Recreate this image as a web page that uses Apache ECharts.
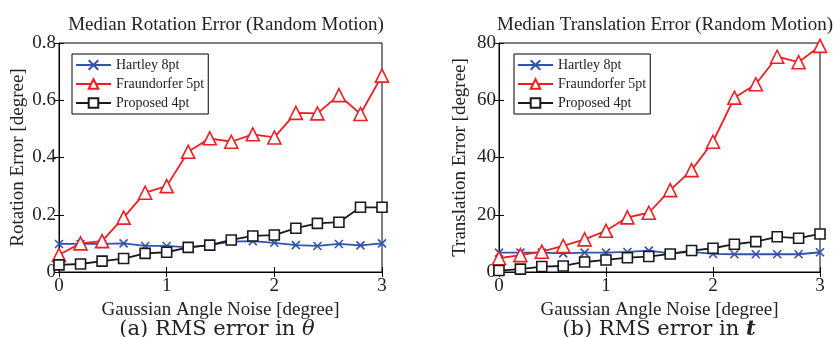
<!DOCTYPE html>
<html><head><meta charset="utf-8">
<script src="https://cdn.jsdelivr.net/npm/echarts@6/dist/echarts.min.js"></script>
<style>html,body{margin:0;padding:0;background:#fff}#c{width:834px;height:337px}</style>
</head><body><div id="c"></div>
<script>
const noise = [0,0.2,0.4,0.6,0.8,1.0,1.2,1.4,1.6,1.8,2.0,2.2,2.4,2.6,2.8,3.0];
const rotHartley = [0.098,0.098,0.098,0.100,0.091,0.091,0.086,0.094,0.106,0.108,0.102,0.094,0.091,0.098,0.093,0.100];
const rotFraund = [0.06,0.10,0.108,0.19,0.277,0.30,0.42,0.467,0.455,0.481,0.47,0.556,0.554,0.618,0.552,0.686];
const rotProposed = [0.025,0.028,0.038,0.047,0.065,0.069,0.086,0.094,0.112,0.126,0.129,0.153,0.170,0.174,0.226,0.226];
const trHartley = [6.75,6.75,6.75,6.5,6.75,6.75,7.0,7.45,6.5,7.0,6.3,6.2,6.2,6.2,6.2,6.9];
const trFraund = [4.8,5.9,7.1,9.1,11.4,14.4,19.1,20.7,28.6,35.6,45.5,60.9,65.6,75.2,73.3,79.0];
const trProposed = [0.5,1.0,1.9,2.1,3.5,4.2,5.0,5.4,6.3,7.5,8.3,9.7,10.6,12.3,11.8,13.3];
const xTicks = [0,1,2,3];
const rotTicks = [0,0.2,0.4,0.6,0.8];
const trTicks = [0,20,40,60,80];
const seriesNames = ['Hartley 8pt','Fraundorfer 5pt','Proposed 4pt'];

const FONT = 'Liberation Serif';
const CAPFONT = 'DejaVu Serif';
const BLUE = '#3152ad', RED = '#f01e23', BLACK = '#1a1a1a';
const xMark = 'path://M0,0L10,10M10,0L0,10';

function pairs(ys){ return noise.map((x,i)=>[x,ys[i]]); }

const chart = echarts.init(document.getElementById('c'));
const grids = [
  {left:59, right:452, top:43, bottom:65, show:true, borderColor:'#000', borderWidth:1},
  {left:499, right:14, top:43, bottom:65, show:true, borderColor:'#000', borderWidth:1}
];
function xAxes(gi){
  return [
    {gridIndex:gi, type:'value', min:0, max:3, interval:1, position:'bottom',
     name:'Gaussian Angle Noise [degree]', nameLocation:'middle', nameGap:21,
     nameTextStyle:{fontFamily:FONT, fontSize:19, color:'#222'},
     axisLine:{show:true, lineStyle:{color:'#000'}}, axisTick:{show:true, inside:true, length:5, lineStyle:{color:'#000'}},
     axisLabel:{fontFamily:FONT, fontSize:19, color:'#222', margin:5}, splitLine:{show:false}},
    {gridIndex:gi, type:'value', min:0, max:3, interval:1, position:'top',
     axisLine:{show:false}, axisTick:{show:true, inside:true, length:5, lineStyle:{color:'#000'}},
     axisLabel:{show:false}, splitLine:{show:false}}
  ];
}
function yAxes(gi, max, interval, name, gap){
  return [
    {gridIndex:gi, type:'value', min:0, max:max, interval:interval, position:'left',
     name:name, nameLocation:'middle', nameGap:gap,
     nameTextStyle:{fontFamily:FONT, fontSize:19, color:'#222'},
     axisLine:{show:true, lineStyle:{color:'#000'}}, axisTick:{show:true, inside:true, length:5, lineStyle:{color:'#000'}},
     axisLabel:{fontFamily:FONT, fontSize:19, color:'#222', margin:3}, splitLine:{show:false}},
    {gridIndex:gi, type:'value', min:0, max:max, interval:interval, position:'right',
     axisLine:{show:false}, axisTick:{show:true, inside:true, length:5, lineStyle:{color:'#000'}},
     axisLabel:{show:false}, splitLine:{show:false}}
  ];
}
function mk(name, data, xi, yi, color, symbol, size){
  return {name:name, type:'line', xAxisIndex:xi, yAxisIndex:yi, data:pairs(data),
    symbol:symbol, symbolSize:size, showSymbol:true, animation:false,
    lineStyle:{color:color, width:1.8},
    itemStyle:{color: symbol===xMark ? color : '#fff', borderColor:color, borderWidth:1.6}};
}
const legendBase = {orient:'vertical', itemWidth:35, itemHeight:12, itemGap:5,
  backgroundColor:'#fff', borderColor:'#000', borderWidth:1, padding:[4,4,4,3],
  textStyle:{fontFamily:FONT, fontSize:14, color:'#222'}, data:seriesNames};

chart.setOption({
  animation:false,
  title:[
    {text:'Median Rotation Error (Random Motion)', left:221, textAlign:'center', top:11,
     textStyle:{fontFamily:FONT, fontSize:19, fontWeight:'normal', color:'#222'}},
    {text:'Median Translation Error (Random Motion)', left:660, textAlign:'center', top:11,
     textStyle:{fontFamily:FONT, fontSize:19, fontWeight:'normal', color:'#222'}},
    {text:'(a) RMS error in {i|θ}', left:212, textAlign:'center', top:314,
     textStyle:{fontFamily:CAPFONT, fontSize:21, fontWeight:'normal', color:'#222',
       rich:{i:{fontFamily:CAPFONT, fontSize:21, fontStyle:'italic', color:'#222'}}}},
    {text:'(b) RMS error in {b|t}', left:654, textAlign:'center', top:314,
     textStyle:{fontFamily:CAPFONT, fontSize:21, fontWeight:'normal', color:'#222',
       rich:{b:{fontFamily:CAPFONT, fontSize:21, fontStyle:'italic', fontWeight:'bold', color:'#222'}}}}
  ],
  legend:[
    Object.assign({left:72, top:54}, legendBase),
    Object.assign({left:514, top:54}, legendBase)
  ],
  grid:grids,
  xAxis:[...xAxes(0), ...xAxes(1)],
  yAxis:[...yAxes(0,0.8,0.2,'Rotation Error [degree]',31), ...yAxes(1,80,20,'Translation Error [degree]',29)],
  series:[
    mk('Hartley 8pt', rotHartley, 0, 0, BLUE, xMark, 8),
    mk('Fraundorfer 5pt', rotFraund, 0, 0, RED, 'triangle', 13),
    mk('Proposed 4pt', rotProposed, 0, 0, BLACK, 'rect', 10),
    mk('Hartley 8pt', trHartley, 2, 2, BLUE, xMark, 8),
    mk('Fraundorfer 5pt', trFraund, 2, 2, RED, 'triangle', 13),
    mk('Proposed 4pt', trProposed, 2, 2, BLACK, 'rect', 10)
  ]
});
</script></body></html>
